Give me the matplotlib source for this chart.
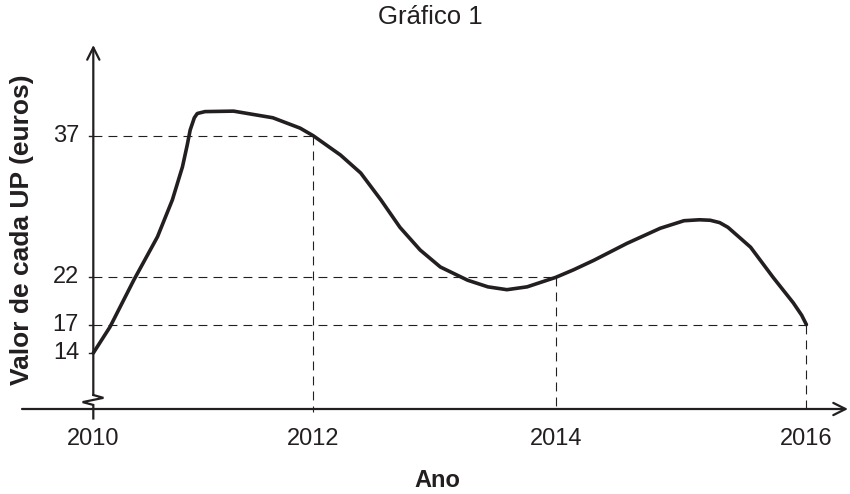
import matplotlib
matplotlib.use('Agg')
import matplotlib.pyplot as plt

plt.rcParams['font.family'] = ['Liberation Sans', 'DejaVu Sans']

# curve (year, euros)
years = [2010.00, 2010.14, 2010.34, 2010.54, 2010.665, 2010.75, 2010.79, 2010.815,
         2010.85, 2010.875, 2010.94, 2011.18, 2011.51, 2011.74, 2011.85, 2012.08,
         2012.25, 2012.42, 2012.58, 2012.75, 2012.92, 2013.15, 2013.32, 2013.48,
         2013.65, 2013.89, 2014.04, 2014.21, 2014.49, 2014.77, 2014.97, 2015.10,
         2015.19, 2015.27, 2015.34, 2015.53, 2015.72, 2015.89, 2015.96, 2016.00]
values = [14.0, 16.75, 21.7, 26.3, 30.2, 33.7, 36.0, 37.6,
          38.9, 39.35, 39.55, 39.6, 38.9, 37.8, 37.0, 34.95,
          33.05, 30.2, 27.3, 24.9, 23.1, 21.7, 21.0, 20.7,
          21.0, 22.0, 22.8, 23.8, 25.6, 27.2, 28.0, 28.1,
          28.05, 27.8, 27.3, 25.2, 22.0, 19.3, 18.0, 17.0]

# guide points (dashed lines) and axis labels
guide_x = [2011.85, 2013.89, 2016.00]
guide_y = [37, 22, 17]
xtick_pos = [2010.00, 2011.85, 2013.89, 2016.00]
xtick_labels = ['2010', '2012', '2014', '2016']
ytick_vals = [14, 17, 22, 37]

ink = '#231f20'
x0, x1 = 2009.40, 2016.35
y0, y1 = 8.07, 46.6

fig = plt.figure(figsize=(8.5, 4.94), dpi=100)
ax = fig.add_axes([22 / 850, 85 / 494, 826 / 850, 364 / 494])
ax.set_xlim(x0, x1)
ax.set_ylim(y0, y1)
ax.axis('off')

# dashed guides
for gx, gy in zip(guide_x, guide_y):
    ax.plot([2010, gx], [gy, gy], color=ink, lw=0.8, dashes=(8, 5.5))
    ax.plot([gx, gx], [gy, y0 - 0.3], color=ink, lw=0.8, dashes=(8, 5.5),
            clip_on=False)

# x axis with arrow
ax.annotate('', xy=(x1, y0), xytext=(x0, y0),
            arrowprops=dict(arrowstyle='->', color=ink, lw=1.6,
                            mutation_scale=22, shrinkA=0, shrinkB=0),
            annotation_clip=False)

# y axis with break and arrow
brk_top = 9.55
ax.annotate('', xy=(2010, y1), xytext=(2010, brk_top),
            arrowprops=dict(arrowstyle='->', color=ink, lw=1.6,
                            mutation_scale=22, shrinkA=0, shrinkB=0),
            annotation_clip=False)
ax.plot([2010, 2010.085, 2009.91, 2010, 2010],
        [brk_top, brk_top - 0.3, brk_top - 0.75, brk_top - 1.05, y0 - 1.0],
        color=ink, lw=1.6, clip_on=False, solid_joinstyle='miter')

# y ticks
for v in ytick_vals:
    ax.plot([2009.96, 2010], [v, v], color=ink, lw=1.0)
    ax.text(2009.88, v, str(v), ha='right', va='center', fontsize=17, color=ink)

# x tick labels
for p, lab in zip(xtick_pos, xtick_labels):
    ax.text(p, y0 - 3.2, lab, ha='center', va='center', fontsize=17, color=ink)

# the curve
ax.plot(years, values, color=ink, lw=2.6, solid_capstyle='round',
        solid_joinstyle='round')

fig.text(430 / 850, 1 - 17 / 494, 'Gráfico 1', ha='center', va='center',
         fontsize=18.5, color=ink)
fig.text(437 / 850, 1 - 480 / 494, 'Ano', ha='center', va='center',
         fontsize=17, fontweight='bold', color=ink)
fig.text(22 / 850, 1 - 230 / 494, 'Valor de cada UP (euros)', ha='center',
         va='center', rotation=90, fontsize=19, fontweight='bold', color=ink)

fig.savefig('out.png', dpi=100, facecolor='white')
